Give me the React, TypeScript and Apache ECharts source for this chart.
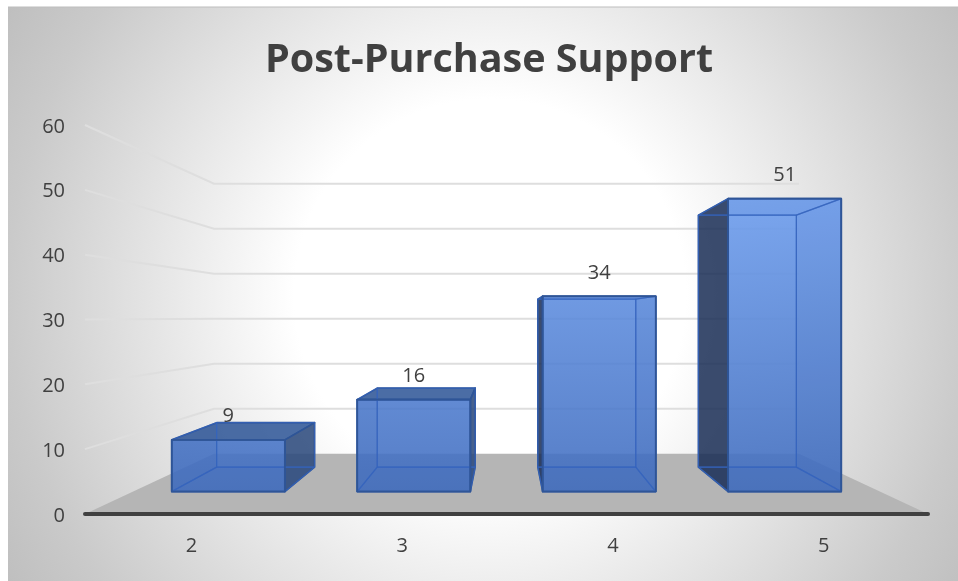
import React, { useEffect, useRef } from "react";
import * as echarts from "echarts";

const categories = ["2", "3", "4", "5"];
const values = [9, 16, 34, 51];
const yTicks = [0, 10, 20, 30, 40, 50, 60];
const titleText = "Post-Purchase Support";

const TEXT = "#404040";
const FONT = "'Open Sans', sans-serif";
const GRID = { left: 85, right: 30, top: 125, bottom: 67 };
// Perspective of the 3D plot: vanishing point and depth scales
const VX = 506.5;
const VY = 317;
const S_WALL = 0.694;
const S_FRONT = 0.886;
const S_FRONT_X = 0.88;
const S_BACK = 0.762;
const BAR_RATIO = 0.61;

const proj = (p: number[], s: number, sx: number = s) => [VX + (p[0] - VX) * sx, VY + (p[1] - VY) * s];

function renderGrid(params: any, api: any) {
  const cs = params.coordSys;
  const y = api.coord([0, api.value(0)])[1];
  const a = [cs.x, y];
  const b = [cs.x + cs.width, y];
  const style = { stroke: "#dedede", lineWidth: 2, fill: "none" };
  const pa = proj(a, S_WALL);
  const pb = proj(b, S_WALL);
  return {
    type: "polyline",
    shape: { points: [a, pa, pb] },
    style,
    silent: true,
  };
}

function renderFloor(params: any, api: any) {
  const cs = params.coordSys;
  const y = api.coord([0, 0])[1];
  const a = [cs.x, y];
  const b = [cs.x + cs.width, y];
  return {
    type: "polygon",
    shape: { points: [a, proj(a, S_WALL), proj(b, S_WALL), b] },
    style: { fill: "#b5b5b5" },
    silent: true,
  };
}

function renderBar(params: any, api: any) {
  const cat = api.value(0);
  const val = api.value(1);
  const band = api.size([1, 0])[0];
  const half = (band * BAR_RATIO) / 2;
  const base = api.coord([cat, 0]);
  const top = api.coord([cat, val]);
  const corner = (dx: number, p: number[], s: number, sx: number = s) => proj([p[0] + dx, p[1]], s, sx);

  const fbl = corner(-half, base, S_FRONT, S_FRONT_X);
  const fbr = corner(half, base, S_FRONT, S_FRONT_X);
  const ftl = corner(-half, top, S_FRONT, S_FRONT_X);
  const ftr = corner(half, top, S_FRONT, S_FRONT_X);
  const bbl = corner(-half, base, S_BACK);
  const bbr = corner(half, base, S_BACK);
  const btl = corner(-half, top, S_BACK);
  const btr = corner(half, top, S_BACK);

  const edge = "#2f5597";
  const inner = "rgba(52,100,190,0.7)";
  const hiddenFill = "rgba(47,85,151,0.05)";
  const face = (points: number[][], fill: any, stroke = edge, lineWidth = 1.6) => ({
    type: "polygon",
    shape: { points },
    style: { fill, stroke, lineWidth, lineJoin: "round" },
    silent: true,
  });

  const leftExposed = bbl[0] < fbl[0];
  const rightExposed = bbr[0] > fbr[0];
  const topExposed = btl[1] < ftl[1];

  const exposed: any[] = [];
  const hidden: any[] = [];
  const leftPts = [ftl, btl, bbl, fbl];
  const rightPts = [ftr, btr, bbr, fbr];
  const topPts = [ftl, btl, btr, ftr];
  const bottomPts = [fbl, bbl, bbr, fbr];
  if (leftExposed) exposed.push(face(leftPts, "rgba(25,45,85,0.85)"));
  else hidden.push(face(leftPts, hiddenFill, inner, 1.2));
  if (rightExposed) exposed.push(face(rightPts, "rgba(45,75,125,0.88)"));
  else hidden.push(face(rightPts, hiddenFill, inner, 1.2));
  if (topExposed) exposed.push(face(topPts, "rgba(45,85,150,0.86)"));
  else hidden.push(face(topPts, hiddenFill, inner, 1.2));
  hidden.push(face(bottomPts, hiddenFill, inner, 1.2));

  const yTop = proj(api.coord([cat, Math.max(...values)]), S_FRONT)[1];
  const front = face([ftl, ftr, fbr, fbl], {
    type: "linear",
    global: true,
    x: 0,
    y: yTop,
    x2: 0,
    y2: fbl[1],
    colorStops: [
      { offset: 0, color: "rgba(107,156,238,0.88)" },
      { offset: 1, color: "rgba(62,107,190,0.88)" },
    ],
  });
  const backRect = face([btl, btr, bbr, bbl], "rgba(0,0,0,0)", inner, 1.2);
  const frontOutline = face([ftl, ftr, fbr, fbl], "rgba(0,0,0,0)", edge, 1.8);

  const label = {
    type: "text",
    style: {
      text: String(val),
      x: (ftl[0] + ftr[0]) / 2,
      y: ftl[1] - 25,
      fill: TEXT,
      font: `20px ${FONT}`,
      textAlign: "center",
      textVerticalAlign: "middle",
    },
    silent: true,
  };

  return {
    type: "group",
    children: [...exposed, front, ...hidden, backRect, frontOutline, label],
  };
}

export default function App() {
  const ref = useRef<HTMLDivElement>(null);
  useEffect(() => {
    const chart = echarts.init(ref.current!, null, { renderer: "svg" });
    chart.setOption({
      animation: false,
      graphic: [
        {
          type: "rect",
          z: -10,
          silent: true,
          shape: { x: 8, y: 7, width: 950, height: 574 },
          style: {
            fill: {
              type: "radial",
              global: true,
              x: 490,
              y: 295,
              r: 560,
              colorStops: [
                { offset: 0, color: "#ffffff" },
                { offset: 0.35, color: "#ffffff" },
                { offset: 0.86, color: "#cacaca" },
                { offset: 1, color: "#bfbfbf" },
              ],
            },
          },
        },
        {
          type: "line",
          z: -9,
          silent: true,
          shape: { x1: 8, y1: 7, x2: 958, y2: 7 },
          style: { stroke: "#bdbdbd", lineWidth: 1 },
        },
      ],
      title: {
        text: titleText,
        left: 484,
        top: 32,
        textAlign: "center",
        textStyle: { color: TEXT, fontSize: 39.5, fontWeight: "bold", fontFamily: FONT },
      },
      grid: GRID,
      xAxis: {
        type: "category",
        data: categories,
        axisTick: { show: false },
        axisLine: { show: true, lineStyle: { color: TEXT, width: 4, cap: "round" } },
        axisLabel: { color: TEXT, fontSize: 20, fontFamily: FONT, margin: 20, padding: [0, 0, 0, 2] },
        z: 5,
      },
      yAxis: {
        type: "value",
        min: 0,
        max: 60,
        interval: 10,
        axisLine: { show: false },
        axisTick: { show: false },
        splitLine: { show: false },
        axisLabel: { color: TEXT, fontSize: 20, fontFamily: FONT, margin: 20, customValues: yTicks },
      },
      series: [
        {
          type: "custom",
          name: "gridlines",
          renderItem: renderGrid,
          data: yTicks.slice(1).map((t) => [t]),
          encode: { y: 0 },
          clip: false,
          silent: true,
          z: 1,
        },
        {
          type: "custom",
          name: "floor",
          renderItem: renderFloor,
          data: [[0]],
          encode: { y: 0 },
          clip: false,
          silent: true,
          z: 2,
        },
        {
          type: "custom",
          name: "Post-Purchase Support",
          renderItem: renderBar,
          data: values.map((v, i) => [i, v]),
          encode: { x: 0, y: 1 },
          clip: false,
          silent: true,
          z: 3,
        },
      ],
    });
    return () => chart.dispose();
  }, []);
  return <div ref={ref} style={{ position: "fixed", left: 0, top: 0, width: 958, height: 581 }} />;
}
